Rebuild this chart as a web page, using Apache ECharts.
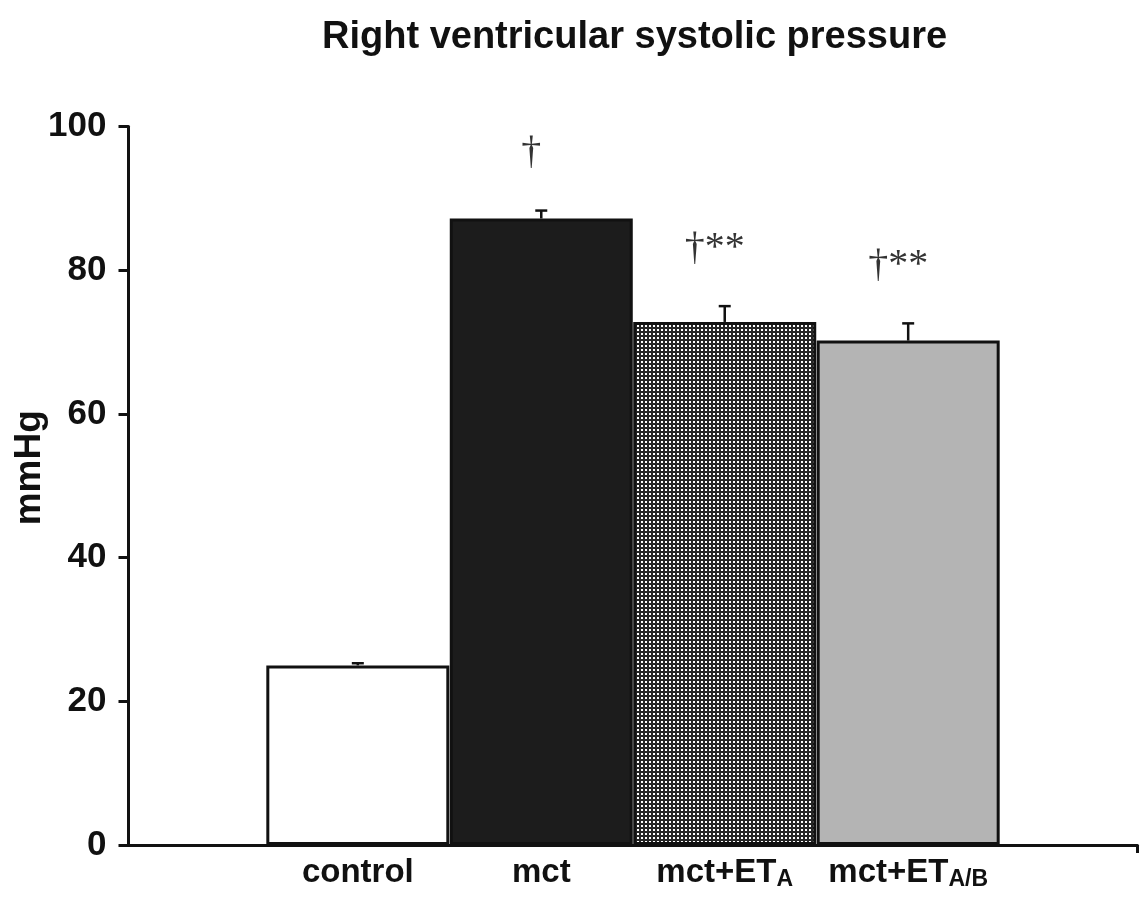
<!DOCTYPE html>
<html>
<head>
<meta charset="utf-8">
<script src="https://cdn.jsdelivr.net/npm/echarts@6/dist/echarts.min.js"></script>
<style>html,body{margin:0;padding:0;background:#fff}#c{width:1144px;height:898px}</style>
</head>
<body>
<div id="c"></div>
<script>
// ---- data ----
const groupNames = ['control', 'mct', 'mct+ET', 'mct+ET'];
const groupSubs = ['', '', 'A', 'A/B'];
const groupPos = [1, 2, 3, 4];
const meanValues = [25.0, 87.2, 72.8, 70.2];
const errValues = [0.3, 1.1, 2.2, 2.4];
const annotations = ['', '†', '†**', '†**'];
const yTicks = [0, 20, 40, 60, 80, 100];

const SANS = '"Liberation Sans", Arial, sans-serif';
const SERIF = '"Liberation Serif", "Times New Roman", serif';

// grid pattern for the mct+ETA bar
const pc = document.createElement('canvas');
pc.width = 4; pc.height = 4;
const pctx = pc.getContext('2d');
pctx.fillStyle = '#262626'; pctx.fillRect(0, 0, 4, 4);
pctx.fillStyle = '#ffffff'; pctx.fillRect(1, 1, 2, 2);

const fills = ['#ffffff', '#1c1c1c', { image: pc, repeat: 'repeat' }, '#b4b4b4'];

const barData = groupPos.map((x, i) => ({
  value: [x, meanValues[i]],
  itemStyle: { color: fills[i] }
}));
const errData = groupPos.map((x, i) => [x, meanValues[i], meanValues[i] + errValues[i]]);
const annData = groupPos.map((x, i) => [x, meanValues[i] + errValues[i]]);

const chart = echarts.init(document.getElementById('c'), null, { renderer: 'canvas' });
chart.setOption({
  animation: false,
  backgroundColor: '#fff',
  title: {
    text: 'Right ventricular systolic pressure',
    left: 317,
    top: 14,
    textStyle: { fontFamily: SANS, fontWeight: 'bold', fontSize: 38, color: '#111' }
  },
  grid: { left: 128.5, right: 6.5, top: 126.5, bottom: 53, containLabel: false, outerBoundsMode: 'none' },
  xAxis: {
    type: 'value',
    min: -0.25,
    max: 5.25,
    splitLine: { show: false },
    axisLine: { show: true, onZero: false, lineStyle: { color: '#111', width: 3 } },
    axisTick: { show: true, customValues: [5.25], length: 8, lineStyle: { color: '#111', width: 3 } },
    axisLabel: {
      customValues: groupPos,
      margin: 8,
      formatter: function (v) {
        const i = groupPos.indexOf(v);
        if (i < 0) return '';
        return groupSubs[i] ? '{m|' + groupNames[i] + '}{s|' + groupSubs[i] + '}' : '{m|' + groupNames[i] + '}';
      },
      rich: {
        m: { fontFamily: SANS, fontWeight: 'bold', fontSize: 33, color: '#111', lineHeight: 40 },
        s: { fontFamily: SANS, fontWeight: 'bold', fontSize: 23, color: '#111', lineHeight: 40, padding: [14, 0, 0, 0] }
      }
    }
  },
  yAxis: {
    type: 'value',
    min: 0,
    max: 100,
    interval: 20,
    name: 'mmHg',
    nameLocation: 'middle',
    nameGap: 80,
    nameRotate: 90,
    nameMoveOverlap: false,
    nameTextStyle: { fontFamily: SANS, fontWeight: 'bold', fontSize: 37, color: '#111', padding: [0, 0, 0, 36] },
    splitLine: { show: false },
    axisLine: { show: true, onZero: false, lineStyle: { color: '#111', width: 3 } },
    axisTick: { show: true, length: 10, lineStyle: { color: '#111', width: 3 } },
    axisLabel: {
      margin: 22,
      fontFamily: SANS, fontWeight: 'bold', fontSize: 35, color: '#111',
      formatter: function (v) { return yTicks.indexOf(v) >= 0 ? String(v) : ''; }
    }
  },
  series: [
    {
      type: 'bar',
      data: barData,
      barWidth: 183,
      itemStyle: { borderColor: '#111', borderWidth: 3 },
      z: 2
    },
    {
      type: 'custom',
      data: errData,
      encode: { x: 0, y: [1, 2] },
      z: 3,
      renderItem: function (params, api) {
        const p0 = api.coord([api.value(0), api.value(1)]);
        const p1 = api.coord([api.value(0), api.value(2)]);
        const st = { stroke: '#111', lineWidth: 2.5 };
        return {
          type: 'group',
          children: [
            { type: 'line', shape: { x1: p0[0], y1: p0[1], x2: p1[0], y2: p1[1] }, style: st },
            { type: 'line', shape: { x1: p1[0] - 6, y1: p1[1], x2: p1[0] + 6, y2: p1[1] }, style: st }
          ]
        };
      }
    },
    {
      type: 'scatter',
      data: annData,
      symbolSize: 0,
      z: 4,
      label: {
        show: true,
        position: 'top',
        distance: 38,
        offset: [-10, 0],
        fontFamily: SERIF,
        fontSize: 40,
        color: '#000',
        formatter: function (p) { return annotations[p.dataIndex]; }
      }
    }
  ]
});
</script>
</body>
</html>
